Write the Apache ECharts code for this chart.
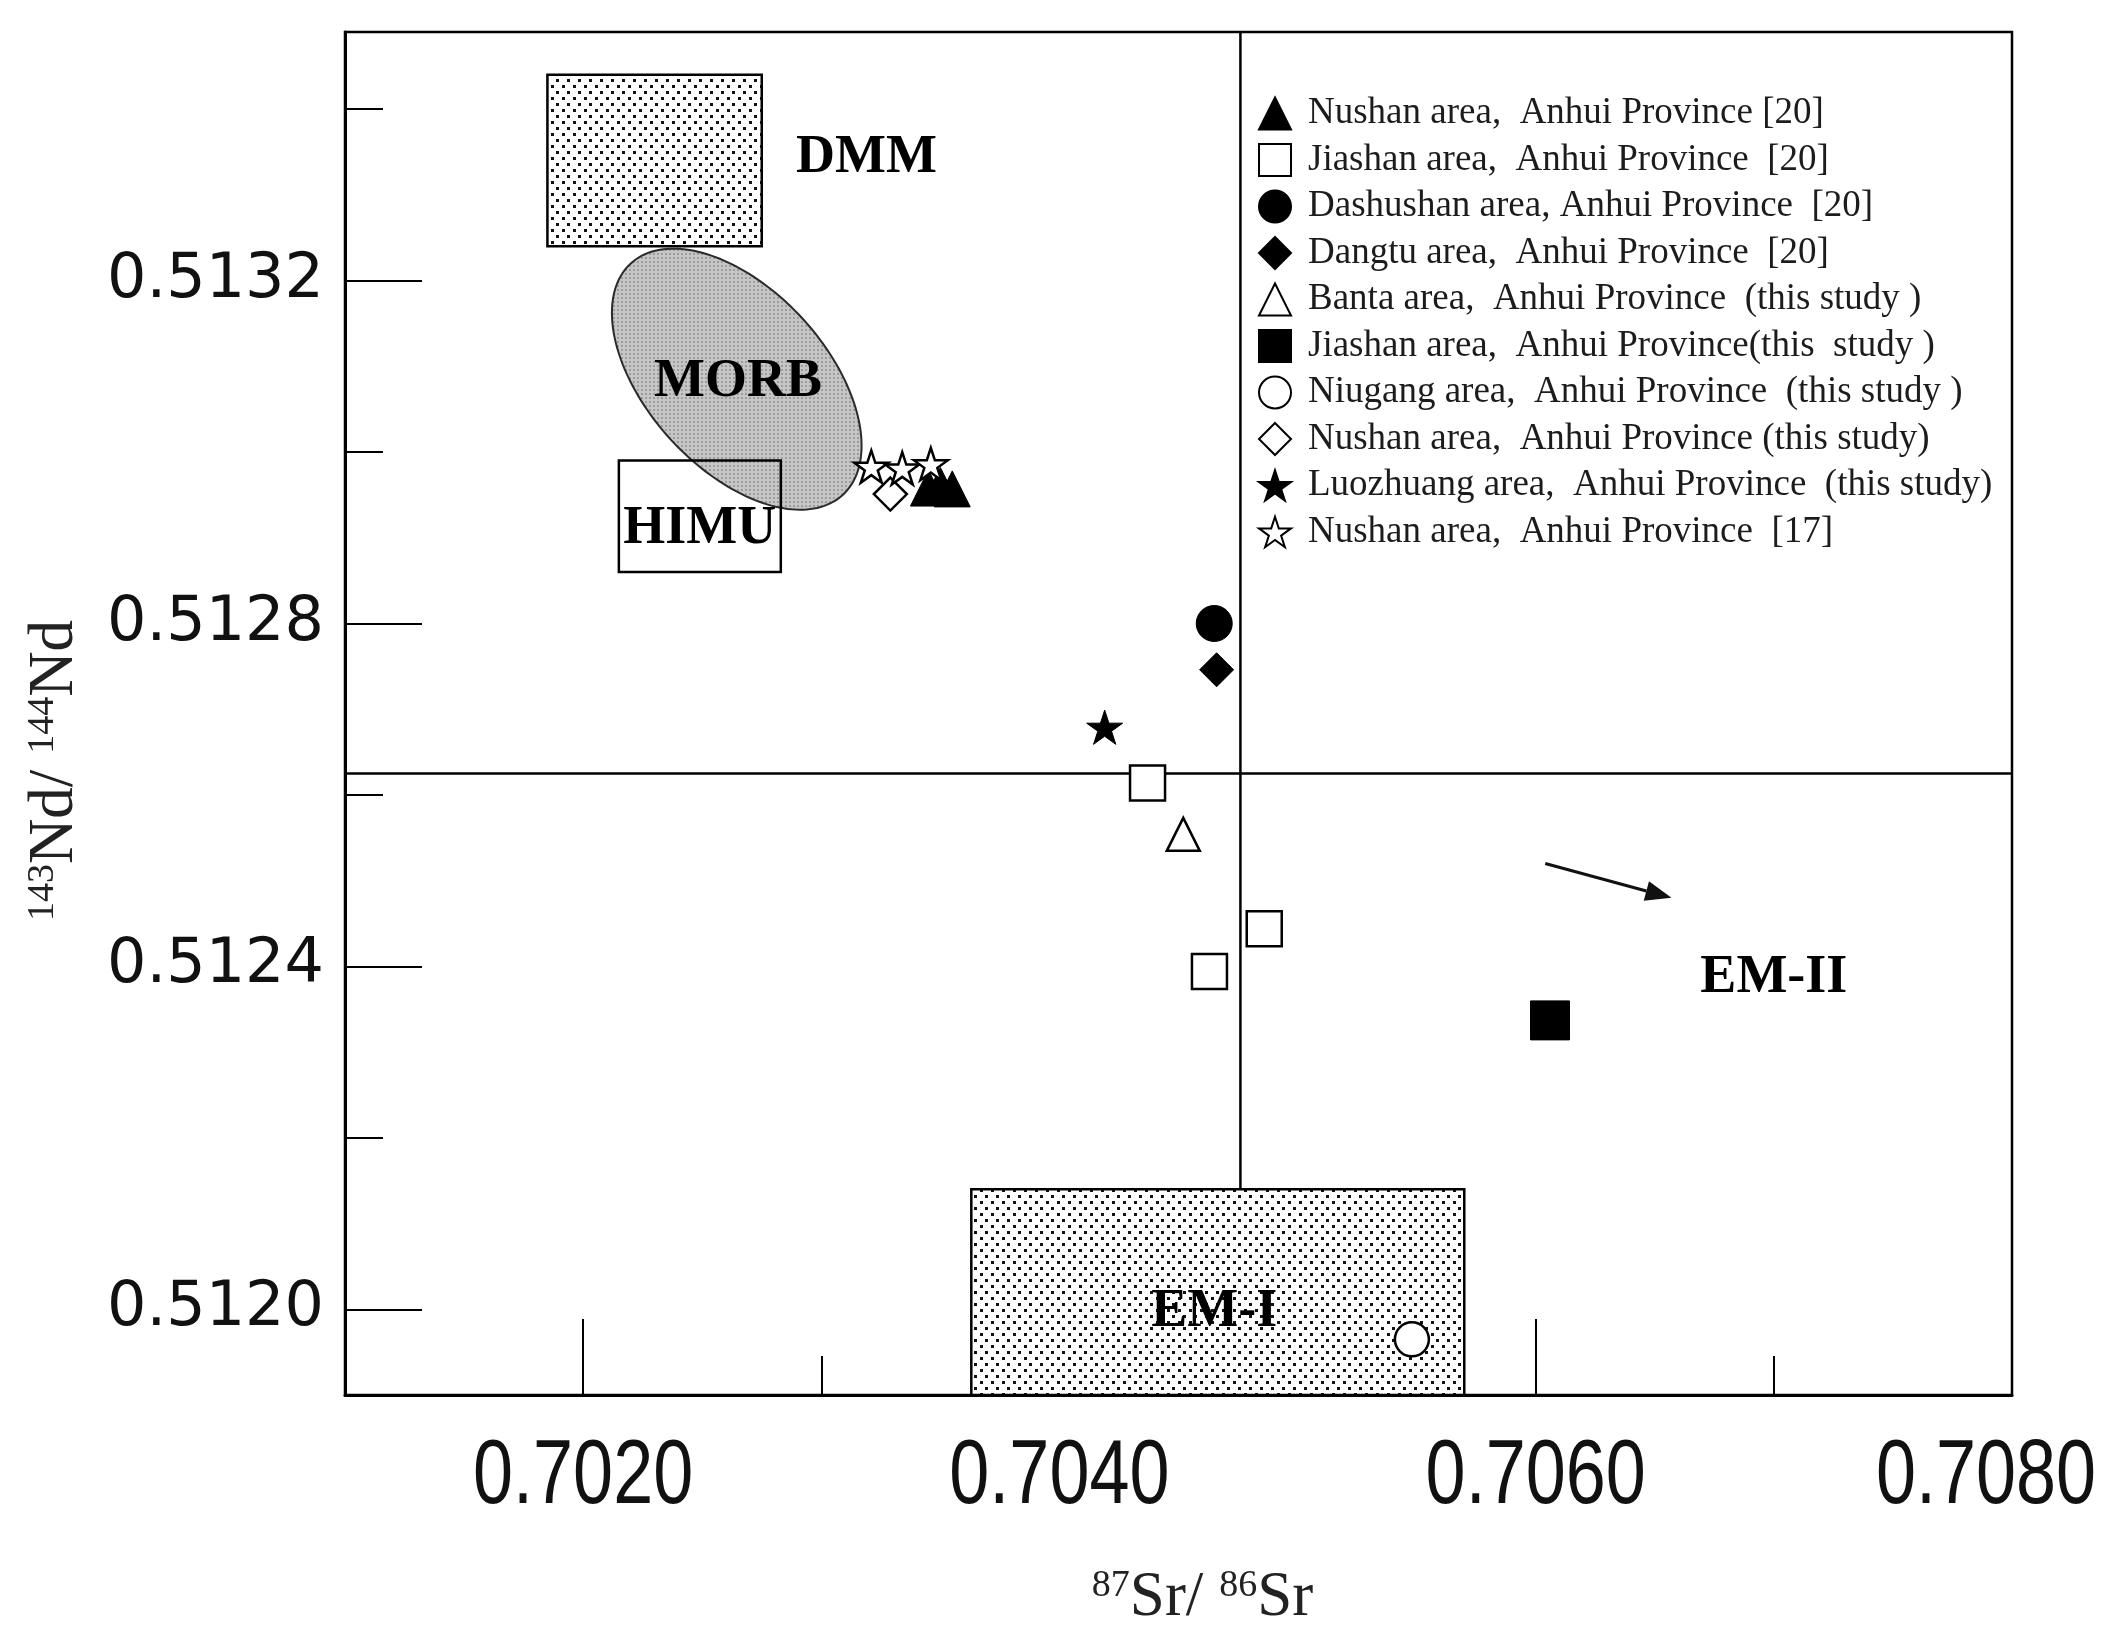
<!DOCTYPE html>
<html>
<head>
<meta charset="utf-8">
<title>Sr-Nd isotopes</title>
<script src="https://cdn.jsdelivr.net/npm/echarts@6/dist/echarts.min.js"></script>
</head>
<body style="margin:0;background:#fff;">
<div id="main" style="width:2120px;height:1641px;"></div>
<script type="text/javascript">
// axis ranges and ticks
var xRange = [0.7010, 0.7080];
var yRange = [0.51190, 0.51349];
var xLongTicks = [0.7020, 0.7040, 0.7060, 0.7080];
var xShortTicks = [0.7030, 0.7050, 0.7070];
var yLongTicks = [0.5120, 0.5124, 0.5128, 0.5132];
var yShortTicks = [0.5122, 0.5126, 0.5130, 0.5134];
var bulkEarth = [0.70476, 0.512625];

// samples  [87Sr/86Sr, 143Nd/144Nd]
var nushan20 = [[0.70345, 0.512958], [0.70350, 0.512961], [0.70355, 0.512957]];
var jiashan20 = [[0.70437, 0.512614], [0.70463, 0.512394], [0.70486, 0.512444]];
var dashushan20 = [[0.70465, 0.512800]];
var dangtu20 = [[0.70466, 0.512746]];
var banta = [[0.70452, 0.512554]];
var jiashanNew = [[0.70606, 0.512337]];
var niugang = [[0.70548, 0.511965]];
var nushanNew = [[0.70329, 0.512951]];
var luozhuang = [[0.70419, 0.512679]];
var nushan17 = [[0.70321, 0.512983], [0.70334, 0.512981], [0.70346, 0.512986]];

// mantle reservoirs: [xmin, ymin, xmax, ymax, dotted]
var dmmBox = [0.70185, 0.51324, 0.70275, 0.51344, 1];
var himuBox = [0.70215, 0.51286, 0.70283, 0.51299, 0];
var em1Box = [0.70363, 0.51190, 0.70570, 0.51214, 1];
var morbAxis = [0.70220, 0.51322, 0.70309, 0.51295];
var morbRatio = 0.57;
var em2Arrow = [0.70604, 0.51252, 0.70657, 0.51248];
var reservoirNames = ['DMM', 'MORB', 'HIMU', 'EM-I', 'EM-II'];
var reservoirPos = [[0.70319, 0.513343], [0.70265, 0.513082], [0.70249, 0.512910], [0.70465, 0.511997], [0.70700, 0.512386]];

var myChart = echarts.init(document.getElementById('main'));

function makePattern(w, h, bg, dot, dots, dotSize) {
    var c = document.createElement('canvas');
    c.width = w; c.height = h;
    var ctx = c.getContext('2d');
    ctx.fillStyle = bg;
    ctx.fillRect(0, 0, w, h);
    ctx.fillStyle = dot;
    dots.forEach(function (d) { ctx.fillRect(d[0], d[1], dotSize, dotSize); });
    return {image: c, repeat: 'repeat'};
}
var dotPattern = makePattern(11, 12, '#ffffff', '#111111', [[1, 1], [6, 7]], 3);
var greyPattern = makePattern(4, 4, '#c6c6c6', '#9c9c9c', [[1, 1]], 2);

var star = 'path://M0,-10L2.245,-3.09L9.511,-3.09L3.633,1.18L5.878,8.09L0,3.82L-5.878,8.09L-3.633,1.18L-9.511,-3.09L-2.245,-3.09Z';

function points(name, data, symbol, size, filled) {
    return {
        name: name,
        type: 'scatter',
        data: data,
        symbol: symbol,
        symbolSize: size,
        symbolKeepAspect: true,
        z: 5,
        itemStyle: filled ? {color: '#000', borderColor: '#000', borderWidth: 1, opacity: 1}
                          : {color: '#fff', borderColor: '#000', borderWidth: 2.5, opacity: 1}
    };
}

function renderCross(params, api) {
    var p = api.coord([api.value(0), api.value(1)]);
    var cs = params.coordSys;
    var st = {stroke: '#000', lineWidth: 2.5};
    return {
        type: 'group',
        children: [
            {type: 'line', shape: {x1: p[0], y1: cs.y, x2: p[0], y2: cs.y + cs.height}, style: st},
            {type: 'line', shape: {x1: cs.x, y1: p[1], x2: cs.x + cs.width, y2: p[1]}, style: st}
        ]
    };
}

function renderBox(params, api) {
    var p0 = api.coord([api.value(0), api.value(1)]);
    var p1 = api.coord([api.value(2), api.value(3)]);
    return {
        type: 'rect',
        shape: {
            x: Math.min(p0[0], p1[0]), y: Math.min(p0[1], p1[1]),
            width: Math.abs(p1[0] - p0[0]), height: Math.abs(p1[1] - p0[1])
        },
        style: {fill: api.value(4) ? dotPattern : 'none', stroke: '#000', lineWidth: 2.5}
    };
}

function renderEllipse(params, api) {
    var p0 = api.coord([api.value(0), api.value(1)]);
    var p1 = api.coord([api.value(2), api.value(3)]);
    var cx = (p0[0] + p1[0]) / 2, cy = (p0[1] + p1[1]) / 2;
    var a = Math.sqrt(Math.pow(p1[0] - p0[0], 2) + Math.pow(p1[1] - p0[1], 2)) / 2;
    var b = a * morbRatio;
    var phi = Math.atan2(p1[1] - p0[1], p1[0] - p0[0]);
    var pts = [];
    for (var i = 0; i < 180; i++) {
        var t = i / 180 * Math.PI * 2;
        pts.push([
            cx + a * Math.cos(t) * Math.cos(phi) - b * Math.sin(t) * Math.sin(phi),
            cy + a * Math.cos(t) * Math.sin(phi) + b * Math.sin(t) * Math.cos(phi)
        ]);
    }
    return {
        type: 'polygon',
        shape: {points: pts},
        style: {fill: greyPattern, stroke: '#2a2a2a', lineWidth: 2}
    };
}

function renderArrow(params, api) {
    var a = api.coord([api.value(0), api.value(1)]);
    var b = api.coord([api.value(2), api.value(3)]);
    var ang = Math.atan2(b[1] - a[1], b[0] - a[0]);
    var L = 26, W = 10;
    var base = [b[0] - L * Math.cos(ang), b[1] - L * Math.sin(ang)];
    return {
        type: 'group',
        children: [
            {type: 'line', shape: {x1: a[0], y1: a[1], x2: base[0], y2: base[1]}, style: {stroke: '#111', lineWidth: 3}},
            {type: 'polygon', shape: {points: [b,
                [base[0] + W * Math.sin(ang), base[1] - W * Math.cos(ang)],
                [base[0] - W * Math.sin(ang), base[1] + W * Math.cos(ang)]]}, style: {fill: '#111'}}
        ]
    };
}

var serifFont = "'Liberation Serif', 'Times New Roman', serif";

function renderName(params, api) {
    var p = api.coord([api.value(0), api.value(1)]);
    return {
        type: 'text', x: p[0], y: p[1],
        style: {
            text: reservoirNames[params.dataIndex], x: 0, y: 0,
            fontFamily: serifFont, fontWeight: 'bold', fontSize: 54, fill: '#000',
            align: 'center', verticalAlign: 'middle'
        }
    };
}

// x tick labels in a tall, narrow face
function renderXLabel(params, api) {
    var v = api.value(0);
    var p = api.coord([v, yRange[0]]);
    var half = 112;
    var x = Math.min(p[0], api.getWidth() - half - 22);
    return {
        type: 'text', x: x, y: p[1] + 38, scaleX: 0.8,
        style: {
            text: v.toFixed(4), x: 0, y: 0,
            fontFamily: "'Liberation Sans', Arial, sans-serif", fontSize: 90, fill: '#111',
            align: 'center', verticalAlign: 'top'
        }
    };
}

var legendNames = [
    'Nushan area,  Anhui Province [20]',
    'Jiashan area,  Anhui Province  [20]',
    'Dashushan area, Anhui Province  [20]',
    'Dangtu area,  Anhui Province  [20]',
    'Banta area,  Anhui Province  (this study )',
    'Jiashan area,  Anhui Province(this  study )',
    'Niugang area,  Anhui Province  (this study )',
    'Nushan area,  Anhui Province (this study)',
    'Luozhuang area,  Anhui Province  (this study)',
    'Nushan area,  Anhui Province  [17]'
];

var axisNameRich = {
    sup: {fontFamily: serifFont, fontSize: 38, color: '#222', verticalAlign: 'top'},
    main: {fontFamily: serifFont, fontSize: 63, color: '#222', verticalAlign: 'bottom'}
};

option = {
    backgroundColor: '#fff',
    animation: false,
    grid: {
        left: 345, right: 108, top: 32, bottom: 246,
        show: true, borderColor: '#000', borderWidth: 2.5
    },
    legend: {
        orient: 'vertical',
        left: 1253, top: 90,
        itemWidth: 32, itemHeight: 32, itemGap: 9.5,
        textStyle: {fontFamily: serifFont, fontSize: 37, lineHeight: 37, color: '#1c1c1c', padding: [0, 0, 0, 12]},
        data: legendNames
    },
    xAxis: [{
        type: 'value', min: xRange[0], max: xRange[1], position: 'bottom',
        axisLine: {show: true, lineStyle: {color: '#000', width: 3}},
        axisTick: {show: true, inside: true, length: 76, customValues: xLongTicks, lineStyle: {color: '#000', width: 2}},
        axisLabel: {show: false},
        splitLine: {show: false},
        name: '{sup|87}{main|Sr/ }{sup|86}{main|Sr}',
        nameLocation: 'middle', nameGap: 172,
        nameTextStyle: {rich: axisNameRich, padding: [0, 0, 0, 48]}
    }, {
        type: 'value', min: xRange[0], max: xRange[1], position: 'bottom',
        axisLine: {show: false},
        axisTick: {show: true, inside: true, length: 39, customValues: xShortTicks, lineStyle: {color: '#000', width: 2}},
        axisLabel: {show: false},
        splitLine: {show: false}
    }],
    yAxis: [{
        type: 'value', min: yRange[0], max: yRange[1], position: 'left',
        axisLine: {show: true, lineStyle: {color: '#000', width: 3}},
        axisTick: {show: true, inside: true, length: 77, customValues: yLongTicks, lineStyle: {color: '#000', width: 2}},
        axisLabel: {
            customValues: yLongTicks, margin: 21,
            fontFamily: "'DejaVu Sans', sans-serif", fontSize: 62, color: '#111',
            formatter: function (v) { return v.toFixed(4); }
        },
        splitLine: {show: false},
        name: '{sup|143}{main|Nd/ }{sup|144}{main|Nd}',
        nameLocation: 'middle', nameGap: 258, nameRotate: 90,
        nameTextStyle: {rich: axisNameRich, padding: [0, 114, 0, 0]}
    }, {
        type: 'value', min: yRange[0], max: yRange[1], position: 'left',
        axisLine: {show: false},
        axisTick: {show: true, inside: true, length: 38, customValues: yShortTicks, lineStyle: {color: '#000', width: 2}},
        axisLabel: {show: false},
        splitLine: {show: false}
    }],
    series: [
        {type: 'custom', z: 1, silent: true, renderItem: renderCross, data: [bulkEarth]},
        {type: 'custom', z: 2, silent: true, renderItem: renderEllipse, data: [morbAxis]},
        {type: 'custom', z: 2, silent: true, renderItem: renderBox, data: [dmmBox, himuBox, em1Box]},
        {type: 'custom', z: 2, silent: true, renderItem: renderArrow, data: [em2Arrow]},
        {type: 'custom', z: 3, silent: true, renderItem: renderName, data: reservoirPos},
        {type: 'custom', z: 3, silent: true, renderItem: renderXLabel, data: xLongTicks.map(function (v) { return [v, yRange[0]]; })},
        points(legendNames[0], nushan20, 'triangle', 36, true),
        points(legendNames[1], jiashan20, 'rect', 35, false),
        points(legendNames[2], dashushan20, 'circle', 36, true),
        points(legendNames[3], dangtu20, 'diamond', 34, true),
        points(legendNames[4], banta, 'triangle', 33, false),
        points(legendNames[5], jiashanNew, 'rect', 39, true),
        points(legendNames[6], niugang, 'circle', 34, false),
        points(legendNames[7], nushanNew, 'diamond', 33, false),
        points(legendNames[8], luozhuang, star, 36, true),
        points(legendNames[9], nushan17, star, 34, false)
    ]
};

myChart.setOption(option);
</script>
</body>
</html>
